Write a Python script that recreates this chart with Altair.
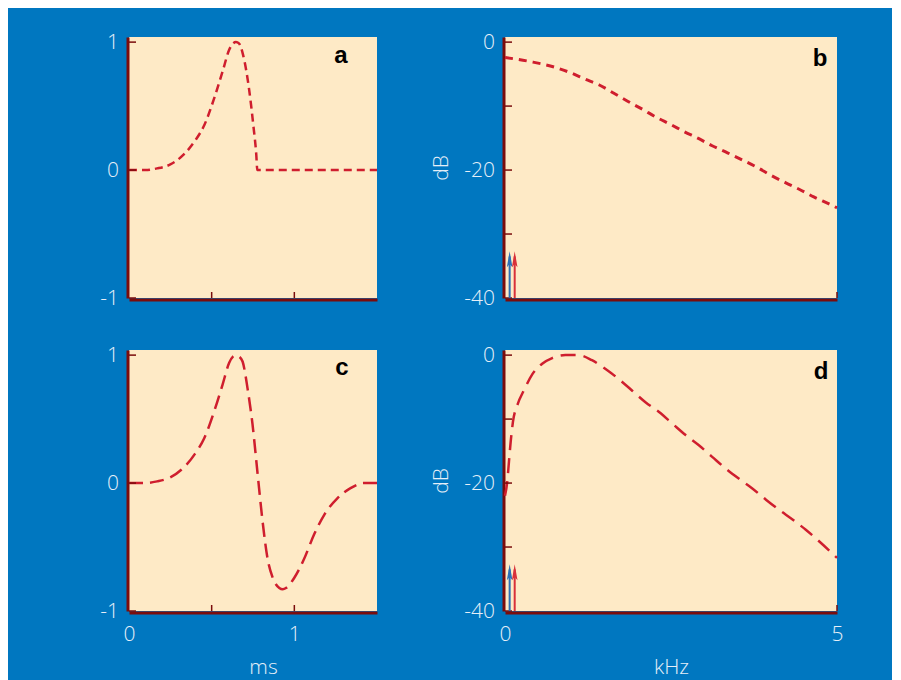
import altair as alt
import pandas as pd

BLUE = "#0077c0"
BEIGE = "#feeac6"
AXIS = "#7a0c0c"
CURVE = "#cf1e2e"
LBL = "#e6eff8"
FONT = "Open Sans"

# Panel a: truncated pulse (time in ms, amplitude)
a_t = [0, 0.10, 0.17, 0.25, 0.33, 0.40, 0.455, 0.515, 0.566, 0.606, 0.63, 0.647, 0.665,
       0.69, 0.727, 0.752, 0.77, 0.776, 1.5]
a_v = [0, 0, 0.013, 0.044, 0.12, 0.23, 0.35, 0.56, 0.77, 0.94, 0.99, 1.0, 0.99,
       0.9, 0.625, 0.35, 0.117, 0, 0]

# Panel c: full pulse
c_t = [0, 0.10, 0.17, 0.25, 0.33, 0.40, 0.455, 0.515, 0.566, 0.606, 0.63, 0.647, 0.665,
       0.687, 0.717, 0.747, 0.778, 0.808, 0.838, 0.869, 0.909, 0.93, 0.95, 1.0, 1.06,
       1.12, 1.18, 1.26, 1.34, 1.42, 1.5]
c_v = [0, 0, 0.013, 0.044, 0.12, 0.23, 0.35, 0.56, 0.77, 0.94, 0.99, 1.0, 0.99,
       0.95, 0.74, 0.46, 0.07, -0.30, -0.59, -0.74, -0.82, -0.83, -0.82, -0.74, -0.59,
       -0.40, -0.25, -0.12, -0.04, 0, 0]

# Panel b: spectrum (kHz, dB)
b_f = [0, 0.41, 0.76, 0.99, 1.21, 1.42, 1.64, 1.84, 2.07, 2.27, 2.50, 2.70, 2.92, 3.12,
       3.35, 3.57, 3.80, 4.00, 4.23, 4.43, 4.65, 4.88, 5.0]
b_db = [-2.4, -3.1, -3.96, -4.8, -5.8, -6.7, -8.0, -9.2, -10.5, -11.7, -12.9, -14.0, -15.1,
        -16.2, -17.3, -18.4, -19.6, -20.8, -22.0, -23.0, -24.2, -25.3, -25.9]

# Panel d: spectrum (kHz, dB)
d_f = [0, 0.035, 0.06, 0.086, 0.12, 0.19, 0.29, 0.41, 0.56, 0.71, 0.91, 1.11, 1.31, 1.52,
       1.72, 1.92, 2.12, 2.32, 2.52, 2.72, 2.92, 3.12, 3.32, 3.52, 3.72, 3.93, 4.13, 4.33,
       4.53, 4.73, 5.0]
d_db = [-22.0, -19.7, -16.6, -13.5, -10.4, -7.7, -5.4, -3.0, -1.35, -0.47, 0, 0, -0.8, -2.2,
        -3.8, -5.6, -7.4, -8.9, -10.7, -12.5, -14.1, -15.9, -17.7, -19.3, -20.8, -22.6, -24.2,
        -25.7, -27.3, -29.1, -31.7]

# Arrows (kHz) in the spectra
arrow_f = [0.07, 0.146]
arrow_colors = ["#2a6fb8", "#d8303a"]
arrow_base = -40
arrow_tip = -32.7

letters = ["a", "b", "c", "d"]

time_dom = [0, 1.5]
amp_dom = [-1, 1.04]
freq_dom = [0, 5]
db_dom = [-40, 0.8]

time_ticks = [0.5, 1]
amp_ticks = [-1, 0, 1]
amp_labels = [-1, 0, 1]
freq_ticks = [5]
db_ticks = [-40, -30, -20, -10, 0]
db_labels = [-40, -20, 0]

W_L, W_R, H = 248, 332, 261
FS = 21

LABEL_EXPR = "datum.value < 0 ? '-' + abs(datum.value) : '' + datum.value"


def panel(xs, ys, xdom, ydom, w, xaxis, yaxis, dash, sw, xt, yt, letter, lx, ly,
          arrows=False):
    xs_ = alt.Scale(domain=xdom, nice=False, zero=False)
    ys_ = alt.Scale(domain=ydom, nice=False, zero=False)

    def X():
        return alt.X("x:Q", scale=xs_, axis=xaxis)

    def Y():
        return alt.Y("y:Q", scale=ys_, axis=yaxis)

    line = alt.Chart(pd.DataFrame({"x": xs, "y": ys})).mark_line(
        color=CURVE, strokeWidth=sw, strokeDash=dash, interpolate="monotone"
    ).encode(x=X(), y=Y())
    xtk = alt.Chart(pd.DataFrame({"x": xt})).mark_rule(color=AXIS, strokeWidth=1.5).encode(
        x=X(), y=alt.value(H), y2=alt.value(H - 6),
    )
    ytk = alt.Chart(pd.DataFrame({"y": yt})).mark_rule(color=AXIS, strokeWidth=1.5).encode(
        y=Y(), x=alt.value(0), x2=alt.value(7),
    )
    txt = alt.Chart(pd.DataFrame({"s": [letter]})).mark_text(
        font="Liberation Sans", fontWeight="bold", fontSize=24, color="black",
        align="center", baseline="alphabetic"
    ).encode(text="s:N", x=alt.value(lx), y=alt.value(ly))
    layers = [line, xtk, ytk, txt]
    if arrows:
        adf = pd.DataFrame({"x": arrow_f, "y": [arrow_base] * len(arrow_f),
                            "y2": [arrow_tip - 0.8] * len(arrow_f), "c": arrow_colors})
        hdf = pd.DataFrame({"x": arrow_f, "y": [arrow_tip] * len(arrow_f), "c": arrow_colors})
        rule = alt.Chart(adf).mark_rule(strokeWidth=2).encode(
            x=X(), y=Y(), y2="y2:Q", color=alt.Color("c:N", scale=None),
        )
        head = alt.Chart(hdf).mark_point(
            shape="M0,0L0.35,2L0,1.6L-0.35,2Z", filled=True, size=256, opacity=1
        ).encode(x=X(), y=Y(), color=alt.Color("c:N", scale=None))
        layers += [rule, head]
    return alt.layer(*layers).properties(width=w, height=H)


common = dict(offset=1.5, ticks=False, grid=False, labelFlush=False, domain=True)

ax_a_x = alt.Axis(labels=False, title=None, **common)
ax_c_x = alt.Axis(values=[0, 1], title="ms", titleX=134, titleY=61,
                  titleBaseline="alphabetic", labelPadding=11, **common)
ax_b_x = alt.Axis(labels=False, title=None, **common)
ax_d_x = alt.Axis(values=[0, 5], title="kHz", titleY=61, titleBaseline="alphabetic",
                  labelPadding=11, **common)
ax_amp_y = alt.Axis(values=amp_labels, title=None, labelExpr=LABEL_EXPR, labelPadding=9, **common)
ax_db_y = alt.Axis(values=db_labels, title="dB", labelExpr=LABEL_EXPR, labelPadding=9,
                   titleX=-56, titleBaseline="alphabetic", **common)

pa = panel(a_t, a_v, time_dom, amp_dom, W_L, ax_a_x, ax_amp_y, [8, 5], 2.5,
           time_ticks, amp_ticks, letters[0], W_L - 36, 26)
pb = panel(b_f, b_db, freq_dom, db_dom, W_R, ax_b_x, ax_db_y, [8, 6], 3,
           freq_ticks, db_ticks, letters[1], W_R - 17, 29, arrows=True)
pc = panel(c_t, c_v, time_dom, amp_dom, W_L, ax_c_x, ax_amp_y, [14, 7], 2.5,
           time_ticks, amp_ticks, letters[2], W_L - 35, 25)
pd_ = panel(d_f, d_db, freq_dom, db_dom, W_R, ax_d_x, ax_db_y, [15, 8], 2.5,
            freq_ticks, db_ticks, letters[3], W_R - 16, 29, arrows=True)

chart = alt.concat(pa, pb, pc, pd_, columns=2).properties(
    spacing={"row": 52, "column": 128},
    bounds="flush",
    align="each",
    padding={"left": 91, "top": 23, "right": 49, "bottom": 6},
).configure(
    background=BLUE,
).configure_view(
    fill=BEIGE, stroke=None,
).configure_axis(
    domainColor=AXIS, domainWidth=3,
    labelColor=LBL, labelFont=FONT, labelFontSize=FS, labelFontWeight=300,
    titleColor=LBL, titleFont=FONT, titleFontSize=FS, titleFontWeight=300,
)

chart.save("out.html", embed_options={"renderer": "svg", "actions": False})
